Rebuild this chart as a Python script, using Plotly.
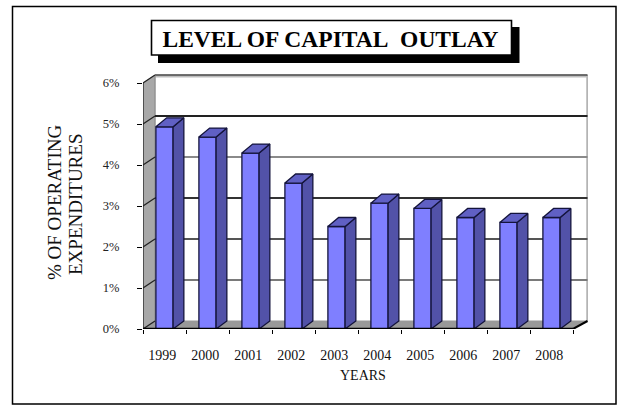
import plotly.graph_objects as go

years = ["1999", "2000", "2001", "2002", "2003", "2004", "2005", "2006", "2007", "2008"]
values = [4.93, 4.68, 4.29, 3.56, 2.50, 3.07, 2.94, 2.72, 2.60, 2.72]
y_ticks = [0, 1, 2, 3, 4, 5, 6]
y_labels = ["0%", "1%", "2%", "3%", "4%", "5%", "6%"]
grid_colors = ["#7a7a7a", "#555555", "#333333", "#8a8a8a", "#222222"]

W, H = 618, 406
L, R, T, B = 143, 588, 73, 329
SLOT = 43.0
UNIT = 41.0
FONT = "Liberation Serif"

xr = [-0.5, -0.5 + (R - L) / SLOT]
yr = [0, (B - T) / UNIT]
BAR_W = 0.4
BAR_DX = 0.25
BAR_DY = 0.22
WALL_DX_L = 12 / SLOT
WALL_DX_R = 14.5 / SLOT
WALL_DY = 8 / UNIT
x0, x1 = -0.5, len(years) - 0.5


def px(x):
    return (x - L) / (R - L)


def py(y):
    return (B - y) / (B - T)


def poly(xs, ys, fill, line=None, width=1):
    return dict(type="path", xref="x", yref="y", layer="below",
                path="M" + " L".join(f"{a},{b}" for a, b in zip(xs, ys)) + " Z",
                fillcolor=fill, line=dict(color=line or fill, width=width))


def seg(a, b, c, d, color, width=1, layer="below"):
    return dict(type="line", xref="x", yref="y", layer=layer,
                x0=a, y0=b, x1=c, y1=d, line=dict(color=color, width=width))


back_l = x0 + WALL_DX_L
back_r = x1 + WALL_DX_R
shapes = [
    # outer frame, title shadow and title box
    dict(type="rect", xref="paper", yref="paper", layer="below",
         x0=px(12.5), x1=px(616), y0=py(404), y1=py(6.5), line=dict(color="#000000", width=1.5)),
    dict(type="rect", xref="paper", yref="paper", layer="above",
         x0=px(158), x1=px(519.5), y0=py(63), y1=py(27), fillcolor="#000000", line=dict(width=0)),
    dict(type="rect", xref="paper", yref="paper", layer="above",
         x0=px(151.5), x1=px(511.5), y0=py(55), y1=py(20.5), fillcolor="#ffffff",
         line=dict(color="#000000", width=1.6)),
    # walls and floor
    poly([x0, back_l, back_l, x0], [0, WALL_DY, 6 + WALL_DY, 6], "#a8a8a8"),
    poly([x0, back_l, back_r, x1], [0, WALL_DY, WALL_DY, 0], "#999999"),
    seg(back_r, WALL_DY, back_r, 6 + WALL_DY, "#b4b4b4", 2.5),
    seg(back_l, 6 + WALL_DY - 0.035, back_r, 6 + WALL_DY - 0.035, "#bdbdbd", 2),
    seg(back_l, 6 + WALL_DY, back_r, 6 + WALL_DY, "#404040", 1.5),
    seg(x0, 0, x0, 6, "#333333", 1.5),
    seg(back_l, WALL_DY, back_l, 6 + WALL_DY, "#888888", 1),
    seg(x1, 0, back_r, WALL_DY, "#000000", 2),
]
for v, color in zip(y_ticks[1:], grid_colors):
    shapes.append(seg(back_l, v + WALL_DY, back_r, v + WALL_DY, color, 2))
for v in y_ticks:
    shapes.append(seg(x0, v, back_l, v + WALL_DY, "#222222", 1.2))

fig = go.Figure()
x_pos = list(range(len(years)))
fig.add_trace(go.Bar(x=x_pos, y=values, width=BAR_W, marker=dict(color="#7f7fff", line=dict(color="#14143c", width=1.3)),
                     hoverinfo="skip", showlegend=False))
for i, v in zip(x_pos, values):
    r = i + BAR_W / 2
    l = i - BAR_W / 2
    fig.add_trace(go.Scatter(x=[r, r + BAR_DX, r + BAR_DX, r, r], y=[0, WALL_DY, v + BAR_DY, v, 0],
                             mode="lines", fill="toself", fillcolor="#5252a8",
                             line=dict(color="#14143c", width=1.3), hoverinfo="skip", showlegend=False))
    fig.add_trace(go.Scatter(x=[l, r, r + BAR_DX, l + BAR_DX, l], y=[v, v, v + BAR_DY, v + BAR_DY, v],
                             mode="lines", fill="toself", fillcolor="#6060c4",
                             line=dict(color="#14143c", width=1.3), hoverinfo="skip", showlegend=False))

fig.update_layout(
    width=W, height=H, autosize=False,
    margin=dict(l=L, r=W - R, t=T, b=H - B, pad=0),
    paper_bgcolor="#ffffff", plot_bgcolor="#ffffff",
    font=dict(family=FONT, color="#000000", size=13),
    title=dict(text="<b>LEVEL OF CAPITAL\u00a0 OUTLAY</b>", xref="container", yref="container",
               x=330.5 / W, xanchor="center", y=1 - 38.5 / H, yanchor="middle", pad=dict(t=0, b=0, l=0, r=0),
               font=dict(family=FONT, size=23.5, color="#000000")),
    bargap=0.6,
    shapes=shapes,
    annotations=[
        dict(text="% OF OPERATING", xref="paper", yref="paper", x=px(54), y=py(203), textangle=-90,
             showarrow=False, xanchor="center", yanchor="middle", font=dict(family=FONT, size=19, color="#111111")),
        dict(text="EXPENDITURES", xref="paper", yref="paper", x=px(75.5), y=py(204.5), textangle=-90,
             showarrow=False, xanchor="center", yanchor="middle", font=dict(family=FONT, size=19, color="#111111")),
        dict(text="YEARS", xref="paper", yref="paper", x=px(362.5), y=py(375),
             showarrow=False, xanchor="center", yanchor="middle", font=dict(family=FONT, size=14, color="#111111")),
    ],
    xaxis=dict(range=xr, tickmode="array", tickvals=[i - 0.05 for i in x_pos], ticktext=years,
               ticks="", showgrid=False, zeroline=False, showline=False, ticklabelstandoff=16,
               tickfont=dict(family=FONT, size=14, color="#111111"),
               minor=dict(tickmode="array", tickvals=[i - 0.5 for i in x_pos] + [x1], ticks="outside",
                          ticklen=4, tickwidth=1.2, tickcolor="#000000", showgrid=False)),
    yaxis=dict(range=yr, tickmode="array", tickvals=y_ticks, ticktext=y_labels, ticks="outside", ticklen=5,
               tickwidth=1.2, tickcolor="#000000", showgrid=False, zeroline=False, showline=False,
               ticklabelstandoff=15, tickfont=dict(family=FONT, size=12.5, color="#222222")),
)
fig.add_shape(type="line", xref="x", yref="y", x0=x0, x1=x1, y0=0, y1=0, line=dict(color="#000000", width=2.5))
fig.write_html("out.html", config={"displayModeBar": False}, post_script="document.body.style.margin='0';")
